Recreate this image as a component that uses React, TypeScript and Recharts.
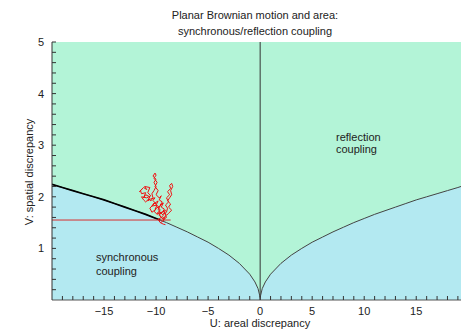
import React from 'react';
import {
  ComposedChart,
  Area,
  Line,
  XAxis,
  YAxis,
  CartesianGrid,
  ReferenceLine,
} from 'recharts';

// boundary curve between synchronous (below) and reflection (above) coupling
const curveU = [-20, -19, -18, -17, -16, -15, -14, -13, -12, -11, -10, -9, -8, -7, -6, -5, -4, -3, -2, -1, -0.5, -0.2, 0, 0.2, 0.5, 1, 2, 3, 4, 5, 6, 7, 8, 9, 10, 11, 12, 13, 14, 15, 16, 17, 18, 19, 19.3];
const curveV = [2.24, 2.18, 2.12, 2.06, 2.0, 1.94, 1.87, 1.8, 1.73, 1.66, 1.58, 1.5, 1.41, 1.32, 1.22, 1.12, 1.0, 0.87, 0.71, 0.5, 0.35, 0.22, 0.05, 0.22, 0.35, 0.5, 0.71, 0.87, 1.0, 1.12, 1.22, 1.32, 1.41, 1.5, 1.58, 1.66, 1.73, 1.8, 1.87, 1.94, 2.0, 2.06, 2.12, 2.18, 2.2];

// thick black stretch of the boundary traced by the coupled path
const boldU = [-20, -19, -18, -17, -16, -15, -14, -13, -12, -11, -10, -9.6];
const boldV = [2.24, 2.18, 2.12, 2.06, 2.0, 1.94, 1.87, 1.8, 1.73, 1.66, 1.58, 1.55];

// brownian path (red)
const pathU = [-9.6, -9.8, -9.5, -9.7, -9.4, -9.9, -9.6, -9.8, -10.1, -9.9, -10.4, -10.2, -10.0, -10.3, -10.1, -10.5, -10.8, -10.6, -11.0, -11.2, -11.0, -11.4, -11.5, -11.3, -11.6, -11.2, -10.9, -11.1, -10.6, -10.8, -10.5, -10.9, -11.4, -11.2, -11.0, -10.7, -10.5, -10.3, -10.4, -10.2, -10.0, -10.2, -10.0, -10.3, -10.1, -10.0, -10.2, -9.9, -10.1, -9.8, -10.0, -9.7, -9.5, -9.7, -9.4, -9.6, -9.3, -9.5, -9.2, -9.4, -9.1, -9.3, -9.0, -8.9, -9.1, -8.8, -9.0, -8.7, -8.9, -8.6, -8.7, -8.5, -8.4, -8.6, -8.5, -8.7, -8.9, -8.6, -8.8, -8.5, -8.8, -9.0, -9.2, -9.0, -9.3, -9.1, -9.4, -9.7, -9.5, -9.9, -10.2, -10.0, -10.4, -10.6, -10.3, -10.5, -10.1, -9.8, -10.0, -9.7, -9.5, -9.8, -9.6, -9.3, -9.5, -9.2, -9.4, -9.6, -9.3, -9.1];
const pathV = [1.5, 1.56, 1.6, 1.66, 1.7, 1.68, 1.74, 1.8, 1.76, 1.84, 1.82, 1.88, 1.86, 1.93, 1.98, 1.96, 1.92, 2.0, 2.04, 1.98, 2.08, 2.06, 2.12, 2.16, 2.1, 2.18, 2.14, 2.2, 2.18, 2.08, 2.02, 1.98, 2.0, 1.94, 1.9, 1.96, 1.92, 1.98, 2.06, 2.12, 2.2, 2.28, 2.34, 2.4, 2.46, 2.42, 2.36, 2.28, 2.2, 2.12, 2.04, 1.98, 2.02, 1.94, 1.9, 1.84, 1.88, 1.8, 1.76, 1.7, 1.74, 1.66, 1.7, 1.78, 1.84, 1.9, 1.98, 2.04, 2.1, 2.16, 2.22, 2.26, 2.2, 2.12, 2.04, 1.98, 1.92, 1.86, 1.8, 1.74, 1.68, 1.64, 1.7, 1.6, 1.56, 1.62, 1.58, 1.64, 1.7, 1.66, 1.72, 1.76, 1.7, 1.78, 1.84, 1.8, 1.88, 1.92, 1.84, 1.8, 1.86, 1.76, 1.7, 1.64, 1.6, 1.56, 1.52, 1.5, 1.47, 1.46];

// red horizontal level from the left edge
const levelU = [-20, -8.6];
const levelV = [1.55, 1.55];

const xTicks = [-19, -18, -17, -16, -15, -14, -13, -12, -11, -10, -9, -8, -7, -6, -5, -4, -3, -2, -1, 0, 1, 2, 3, 4, 5, 6, 7, 8, 9, 10, 11, 12, 13, 14, 15, 16, 17, 18, 19];
const xLabels = [-15, -10, -5, 0, 5, 10, 15];
const yTicks = [0.2, 0.4, 0.6, 0.8, 1, 1.2, 1.4, 1.6, 1.8, 2, 2.2, 2.4, 2.6, 2.8, 3, 3.2, 3.4, 3.6, 3.8, 4, 4.2, 4.4, 4.6, 4.8, 5];
const yLabels = [1, 2, 3, 4, 5];

const zip = (us: number[], vs: number[]) => us.map((u, i) => ({ u, v: vs[i] }));

const curveData = zip(curveU, curveV);
const boldData = zip(boldU, boldV);
const pathData = zip(pathU, pathV);
const levelData = zip(levelU, levelV);

const FONT = '"Liberation Sans", Arial, sans-serif';
const GREEN = '#b3f4d7';
const BLUE = '#b3e9f1';

const fmt = (v: number) => (v < 0 ? '\u2212' + Math.abs(v) : String(v));

const BottomTick = ({ x, y, payload }: any) => (
  <g>
    <line x1={x} x2={x} y1={y} y2={y - 4} stroke="#333" />
    {xLabels.includes(payload.value) && (
      <text x={x} y={y + 15} textAnchor="middle" fontSize={11} fontFamily={FONT} fill="#222">
        {fmt(payload.value)}
      </text>
    )}
  </g>
);

const TopTick = ({ x, y }: any) => <line x1={x} x2={x} y1={y} y2={y + 4} stroke="#333" />;

const LeftTick = ({ x, y, payload }: any) => (
  <g>
    <line x1={x} x2={x + 4} y1={y} y2={y} stroke="#333" />
    {yLabels.includes(payload.value) && (
      <text x={x - 8} y={y + 4} textAnchor="end" fontSize={11} fontFamily={FONT} fill="#222">
        {payload.value}
      </text>
    )}
  </g>
);

export default function App() {
  return (
    <div style={{ position: 'absolute', left: 0, top: 0, width: 461, height: 329, background: '#fff', overflow: 'hidden' }}>
      <ComposedChart width={461} height={329} data={curveData} margin={{ top: 42, right: 0, left: 0, bottom: 0 }}>
        <CartesianGrid horizontal={false} vertical={false} fill={GREEN} />
        <XAxis
          xAxisId="b"
          dataKey="u"
          type="number"
          domain={[-20, 19.3]}
          allowDataOverflow
          ticks={xTicks}
          interval={0}
          height={29}
          tickSize={0}
          tickMargin={0}
          tickLine={false}
          tick={<BottomTick />}
          stroke="#555"
        />
        <XAxis
          xAxisId="t"
          orientation="top"
          dataKey="u"
          type="number"
          domain={[-20, 19.3]}
          allowDataOverflow
          ticks={xTicks}
          interval={0}
          height={0}
          tickSize={0}
          tickMargin={0}
          tickLine={false}
          tick={<TopTick />}
          stroke="#888"
        />
        <YAxis
          dataKey="v"
          type="number"
          domain={[0, 5]}
          allowDataOverflow
          ticks={yTicks}
          interval={0}
          width={52}
          tickSize={0}
          tickMargin={0}
          tickLine={false}
          tick={<LeftTick />}
          stroke="#333"
        />
        <Area xAxisId="b" type="linear" dataKey="v" stroke="none" fill={BLUE} fillOpacity={1} baseValue={0} isAnimationActive={false} />
        <ReferenceLine xAxisId="b" x={0} stroke="#333" strokeWidth={1} />
        <Line xAxisId="b" data={curveData} dataKey="v" type="linear" stroke="#444" strokeWidth={1} dot={false} isAnimationActive={false} />
        <Line xAxisId="b" data={boldData} dataKey="v" type="linear" stroke="#000" strokeWidth={1.7} dot={false} isAnimationActive={false} />
        <Line xAxisId="b" data={levelData} dataKey="v" type="linear" stroke="#d83030" strokeWidth={1} dot={false} isAnimationActive={false} />
        <Line xAxisId="b" data={pathData} dataKey="v" type="linear" stroke="#f01010" strokeWidth={1} dot={false} isAnimationActive={false} />
      </ComposedChart>
      <svg width={461} height={329} style={{ position: 'absolute', left: 0, top: 0, pointerEvents: 'none' }}>
        <g fontFamily={FONT} fontSize={11} fill="#222">
          <text x={255} y={19} textAnchor="middle">Planar Brownian motion and area:</text>
          <text x={255} y={35} textAnchor="middle">synchronous/reflection coupling</text>
          <text x={336} y={141}>reflection</text>
          <text x={336} y={153}>coupling</text>
          <text x={96} y={261}>synchronous</text>
          <text x={96} y={275}>coupling</text>
          <text x={260} y={327} textAnchor="middle">U: areal discrepancy</text>
          <text x={33} y={172} textAnchor="middle" transform="rotate(-90 33 172)">V: spatial discrepancy</text>
        </g>
      </svg>
    </div>
  );
}
